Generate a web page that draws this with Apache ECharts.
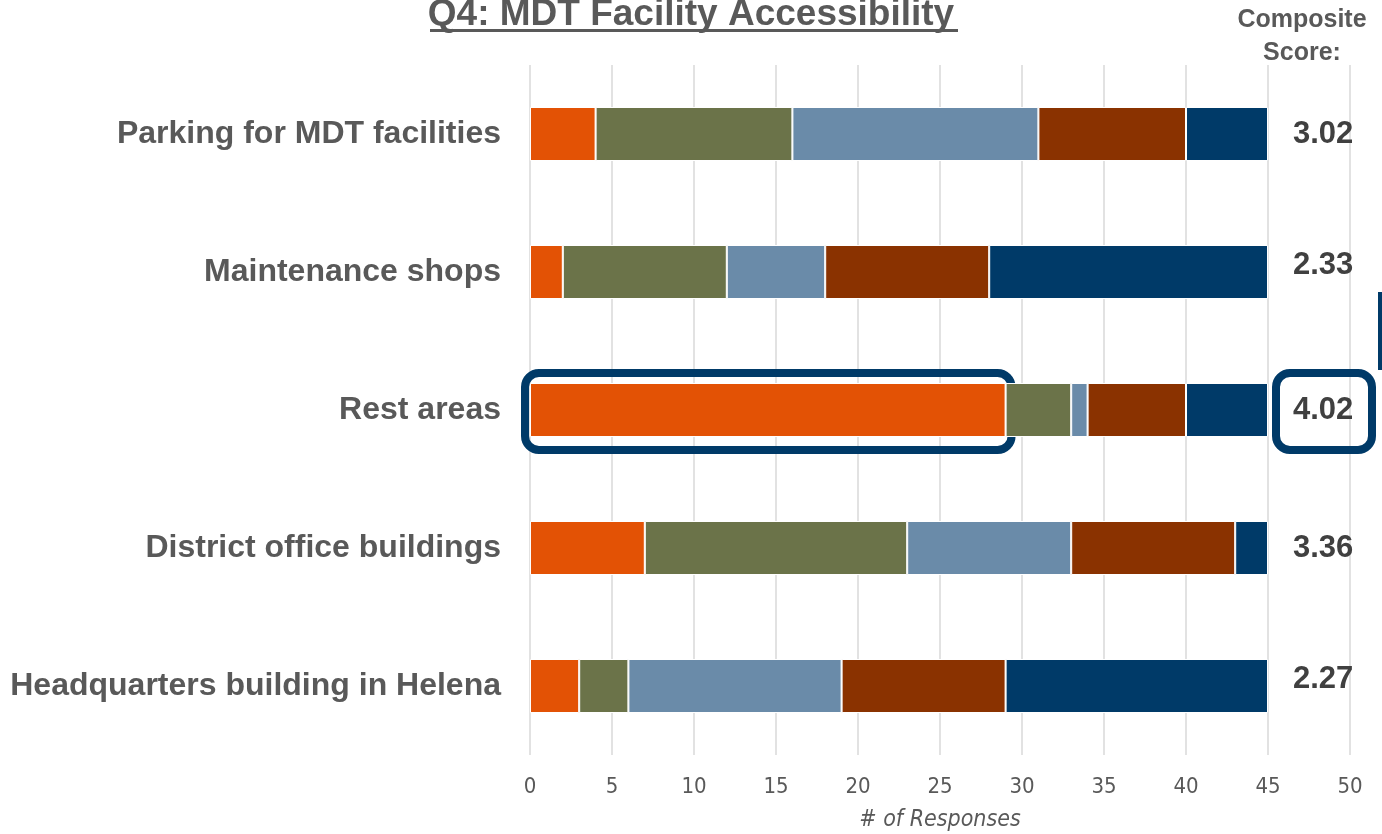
<!DOCTYPE html>
<html>
<head>
<meta charset="utf-8">
<script src="https://cdn.jsdelivr.net/npm/echarts@6/dist/echarts.min.js"></script>
<style>
  html, body { margin: 0; padding: 0; background: #fff; }
  #main { width: 1382px; height: 834px; }
</style>
</head>
<body>
<div id="main"></div>
<script>
// facilities, top to bottom
var categories = ['Parking for MDT facilities', 'Maintenance shops', 'Rest areas', 'District office buildings', 'Headquarters building in Helena'];
// response counts per rating level (best -> worst)
var level5 = [4, 2, 29, 7, 3];
var level4 = [12, 10, 4, 16, 3];
var level3 = [15, 6, 1, 10, 13];
var level2 = [9, 10, 6, 10, 10];
var level1 = [5, 17, 5, 2, 16];
var scores = ['3.02', '2.33', '4.02', '3.36', '2.27'];
var xTicks = [0, 50, 5];

var colors = ['#E35205', '#6B7349', '#6A8BA9', '#8A3200', '#003A68'];
var levels = [level5, level4, level3, level2, level1];
var names = ['5', '4', '3', '2', '1'];
var narrow = '"Liberation Sans Narrow", "Arial Narrow", "DejaVu Sans Condensed", "Liberation Sans", sans-serif';

var myChart = echarts.init(document.getElementById('main'));

var series = levels.map(function (d, i) {
  var s = {
    name: names[i],
    type: 'bar',
    stack: 'total',
    barWidth: 54,
    itemStyle: { color: colors[i], borderColor: '#fff', borderWidth: 1 },
    data: d
  };
  if (i === levels.length - 1) {
    s.label = {
      show: true,
      position: 'right',
      distance: 25,
      formatter: function (p) { return scores[p.dataIndex]; },
      color: '#404040',
      fontFamily: 'Liberation Sans',
      fontWeight: 'bold',
      fontSize: 31
    };
    // a couple of the score labels sit a bit higher in the original
    s.data = d.map(function (v, j) {
      return (j === 1 || j === 4) ? { value: v, label: { offset: [0, -7] } } : v;
    });
  }
  return s;
});

var option = {
  animation: false,
  grid: { left: 530, right: 32, top: 65, bottom: 79, containLabel: false, outerBoundsMode: 'none' },
  xAxis: {
    type: 'value',
    min: xTicks[0],
    max: xTicks[1],
    interval: xTicks[2],
    name: '# of Responses',
    nameLocation: 'middle',
    nameGap: 54,
    nameTextStyle: { color: '#595959', fontFamily: narrow, fontStyle: 'italic', fontSize: 23 },
    axisLine: { show: false },
    axisTick: { show: false },
    axisLabel: { color: '#595959', fontFamily: narrow, fontSize: 22, margin: 21 },
    splitLine: { lineStyle: { color: '#d9d9d9', width: 1.5 } }
  },
  yAxis: {
    type: 'category',
    inverse: true,
    data: categories,
    axisLine: { show: false },
    axisTick: { show: false },
    axisLabel: { color: '#595959', fontFamily: 'Liberation Sans', fontWeight: 'bold', fontSize: 32, margin: 29 }
  },
  series: series
};
myChart.setOption(option);

// title, header and highlight boxes
function drawExtras() {
  var idx = 2;
  var x0 = myChart.convertToPixel({ xAxisIndex: 0 }, 0);
  var x29 = myChart.convertToPixel({ xAxisIndex: 0 }, level5[idx]);
  var x45 = myChart.convertToPixel({ xAxisIndex: 0 }, 45);
  var x50 = myChart.convertToPixel({ xAxisIndex: 0 }, 50);
  var cy = myChart.convertToPixel({ yAxisIndex: 0 }, categories[idx]);
  var navy = '#003A68';
  myChart.setOption({
    graphic: [
      {
        type: 'text', left: 'center', top: -4,
        style: { text: 'Q4: MDT Facility Accessibility', fill: '#595959', font: 'bold 37px "Liberation Sans"' }
      },
      { type: 'rect', shape: { x: 430, y: 29, width: 528, height: 3 }, style: { fill: '#595959' } },
      {
        type: 'text', x: 1302, y: 4,
        style: { text: 'Composite\nScore:', fill: '#595959', font: 'bold 25px "Liberation Sans"', align: 'center', lineHeight: 33 }
      },
      {
        type: 'rect',
        shape: { x: x0 - 5, y: cy - 37, width: x29 - x0 + 11, height: 77, r: 14 },
        style: { fill: 'none', stroke: navy, lineWidth: 8 }
      },
      {
        type: 'rect',
        shape: { x: x45 + 8, y: cy - 37, width: x50 - x45 + 14, height: 77, r: 14 },
        style: { fill: 'none', stroke: navy, lineWidth: 8 }
      },
      { type: 'rect', shape: { x: 1378, y: 292, width: 6, height: 78 }, style: { fill: navy } }
    ]
  });
}
drawExtras();

window.addEventListener('resize', function () {
  myChart.resize();
  drawExtras();
});
</script>
</body>
</html>
